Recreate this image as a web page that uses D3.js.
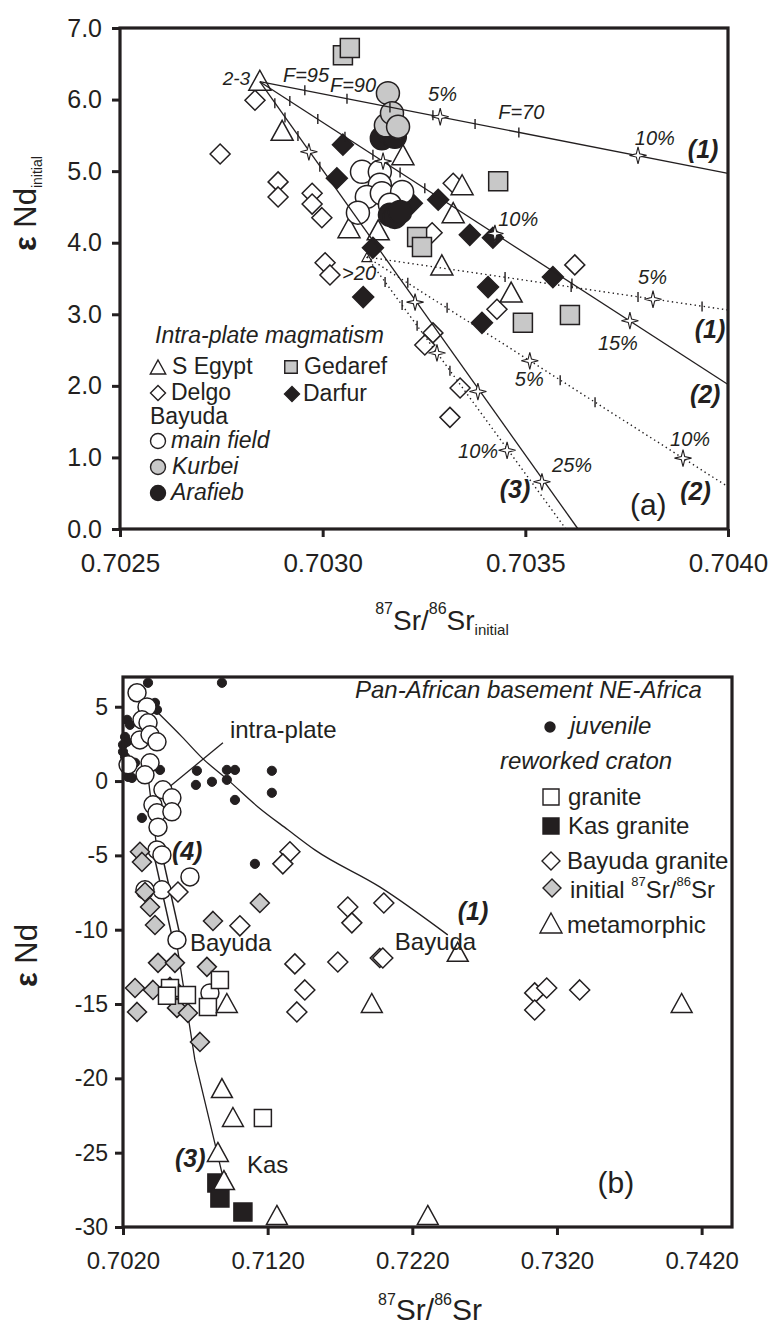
<!DOCTYPE html>
<html><head><meta charset="utf-8">
<script src="https://cdn.jsdelivr.net/npm/d3@7"></script>
<style>
body{margin:0;background:#fff;}
text{font-family:"Liberation Sans",Arial,sans-serif;fill:#231f20;}
</style></head>
<body><svg id="c" width="774" height="1325"></svg>
<script>
// ---------------- Panel (a) data ----------------
const aXTicks = [0.7025, 0.7030, 0.7035, 0.7040];
const aYTicks = [0, 1, 2, 3, 4, 5, 6, 7];
const aSEgypt = [[0.702845,6.27],[0.7029,5.57],[0.703198,5.23],[0.703065,4.21],[0.703137,4.18],[0.703322,4.42],[0.703344,4.81],[0.703294,3.69],[0.703465,3.31]];
const aDelgo = [[0.702833,5.99],[0.702747,5.24],[0.70289,4.85],[0.70289,4.64],[0.702974,4.69],[0.702974,4.54],[0.702998,4.35],[0.703006,3.72],[0.703018,3.55],[0.703322,4.83],[0.70327,4.14],[0.703622,3.69],[0.70343,3.07],[0.703272,2.74],[0.703252,2.57],[0.703339,1.97],[0.703314,1.56]];
const aDarfur = [[0.70305,5.37],[0.703035,4.90],[0.703124,3.93],[0.7031,3.24],[0.70322,4.55],[0.703285,4.60],[0.703363,4.11],[0.70342,4.07],[0.703568,3.52],[0.703408,3.38],[0.703393,2.88]];
const aGedaref = [[0.70305,6.62],[0.703067,6.72],[0.703433,4.86],[0.703233,4.08],[0.703245,3.94],[0.703494,2.88],[0.70361,2.99]];
const aMainField = [[0.703097,4.99],[0.703141,4.99],[0.703141,4.81],[0.703109,4.64],[0.703146,4.69],[0.703196,4.71],[0.703087,4.42],[0.703166,4.53]];
const aKurbei = [[0.703156,5.64],[0.703161,6.09],[0.703171,5.81],[0.703186,5.62]];
const aArafieb = [[0.703146,5.46],[0.703166,5.52],[0.703178,5.48],[0.703166,4.39],[0.703178,4.36],[0.703191,4.43]];
const aEndMember = [[0.703109,3.80]];
// mixing curves
const aSolid1 = [[0.702845,6.25],[0.7040,4.97]];
const aSolid2 = [[0.702845,6.25],[0.7040,2.02]];
const aSolid3 = [[0.702845,6.25],[0.70363,0.0]];
const aDot1 = [[0.703109,3.80],[0.7040,3.06]];
const aDot2 = [[0.703109,3.80],[0.7040,0.59]];
const aDot3 = [[0.703109,3.80],[0.70360,0.0]];
const aCurveTicks = [[0.702956,6.13],[0.70306,6.01],[0.703166,5.89],[0.703272,5.78],[0.703376,5.66],[0.703484,5.54],
  [0.702919,5.98],[0.702988,5.73],[0.703055,5.48],[0.703124,5.23],[0.703191,4.98],[0.703252,4.76],[0.703615,3.43],
  [0.702882,5.95],[0.702907,5.75],[0.702939,5.49],[0.702993,5.06],
  [0.70345,3.52],[0.703613,3.38],[0.703778,3.24],[0.703936,3.11],
  [0.70321,3.44],[0.703307,3.09],[0.703586,2.08],[0.703672,1.77],
  [0.703154,3.45],[0.703196,3.13],[0.703233,2.84],[0.703314,2.21]];
const aStars = [[0.70329,5.76],[0.703778,5.22],[0.703149,5.14],[0.703425,4.13],[0.703758,2.91],
  [0.702966,5.27],[0.703228,3.17],[0.703383,1.92],[0.703541,0.66],
  [0.703815,3.21],[0.703511,2.35],[0.703889,0.99],[0.703282,2.46],[0.703455,1.10]];
const aNotes = [
 {t:'2-3',x:0.702821,y:6.20,k:'pctEnd'},{t:'F=95',x:0.702902,y:6.25,k:'pct'},{t:'F=90',x:0.703018,y:6.11,k:'pct'},
 {t:'5%',x:0.70326,y:5.98,k:'pct'},{t:'F=70',x:0.703433,y:5.73,k:'pct'},{t:'10%',x:0.70377,y:5.37,k:'pct'},
 {t:'(1)',x:0.703901,y:5.18,k:'num'},{t:'10%',x:0.703433,y:4.23,k:'pct'},{t:'5%',x:0.703778,y:3.42,k:'pct'},
 {t:'>20',x:0.703048,y:3.48,k:'pct'},{t:'(1)',x:0.703918,y:2.67,k:'num'},{t:'15%',x:0.703679,y:2.50,k:'pct'},
 {t:'5%',x:0.703474,y:2.00,k:'pct'},{t:'(2)',x:0.703906,y:1.76,k:'num'},{t:'10%',x:0.703857,y:1.16,k:'pct'},
 {t:'10%',x:0.703334,y:0.99,k:'pct'},{t:'25%',x:0.703566,y:0.80,k:'pct'},{t:'(3)',x:0.703437,y:0.43,k:'num'},
 {t:'(2)',x:0.703882,y:0.41,k:'num'},{t:'(a)',x:0.703758,y:0.20,k:'panel'}];

// ---------------- Panel (b) data ----------------
const bXTicks = [0.7020, 0.7120, 0.7220, 0.7320, 0.7420];
const bYTicks = [5, 0, -5, -10, -15, -20, -25, -30];
const bJuvenile = [[0.70373,6.61],[0.70884,6.61],[0.70421,5.26],[0.70435,4.79],[0.70228,4.12],[0.70248,3.78],[0.70214,2.97],[0.70228,2.64],[0.702,1.97],[0.70214,1.63],[0.70235,0.28],[0.70262,0.21],[0.70283,1.23],[0.702,2.44],[0.70456,0.75],[0.70711,0.69],[0.70704,-0.26],[0.70815,-0.05],[0.70918,0.75],[0.70974,0.75],[0.70918,0.08],[0.70974,-1.27],[0.71229,0.69],[0.71229,-0.79],[0.70331,-2.48],[0.71112,-5.57]];
const bIntraPlate = [[0.70297,5.94],[0.70366,4.99],[0.70331,4.12],[0.70373,3.92],[0.70317,2.77],[0.70387,3.11],[0.70435,2.64],[0.70235,1.09],[0.70387,1.23],[0.70352,0.42],[0.70476,-0.59],[0.70538,-1.13],[0.70407,-1.60],[0.70435,-2.14],[0.70538,-2.07],[0.70442,-3.10],[0.70435,-4.63],[0.70469,-4.97],[0.70663,-6.45],[0.70469,-7.32],[0.70352,-7.32],[0.70573,-10.69],[0.70801,-14.25]];
const bInitialSr = [[0.70317,-4.76],[0.70331,-5.44],[0.70352,-7.46],[0.70387,-8.47],[0.70421,-9.68],[0.70822,-9.41],[0.71146,-8.20],[0.71975,-11.90],[0.70442,-12.23],[0.70559,-12.23],[0.7078,-12.50],[0.70283,-13.92],[0.70407,-14.05],[0.70525,-13.85],[0.7058,-14.25],[0.70297,-15.53],[0.70573,-15.26],[0.70649,-15.60],[0.70732,-17.55]];
const bBayudaGranite = [[0.7058,-7.46],[0.71008,-9.74],[0.71354,-4.76],[0.71305,-5.57],[0.71754,-8.47],[0.71782,-9.54],[0.72003,-8.20],[0.71388,-12.30],[0.71457,-14.05],[0.71402,-15.53],[0.71685,-12.17],[0.71996,-11.90],[0.73046,-14.25],[0.73129,-13.92],[0.73046,-15.40],[0.73357,-14.05]];
const bGranite = [[0.7087,-13.38],[0.70525,-13.92],[0.70504,-14.45],[0.70642,-14.39],[0.70787,-15.20],[0.71167,-22.66]];
const bKas = [[0.70849,-27.04],[0.7087,-28.05],[0.71029,-28.99]];
const bMeta = [[0.70918,-14.93],[0.70884,-20.65],[0.7096,-22.60],[0.70856,-24.95],[0.70898,-26.84],[0.71264,-29.19],[0.72307,-29.19],[0.74062,-14.93],[0.7192,-14.93],[0.72514,-11.49]];
const bCurve1 = [[0.70442,4.59],[0.70608,2.97],[0.70746,1.56],[0.70925,0.08],[0.71133,-1.74],[0.7134,-3.28],[0.71526,-4.63],[0.71975,-7.12],[0.72445,-10.35]];
const bCurve3 = [[0.70366,0.89],[0.70435,-4.63],[0.70573,-11.02],[0.70697,-18.76],[0.70891,-26.64]];
const bCurve4 = [[0.70442,-4.97],[0.70573,-10.69]];
const bLeader = [[0.70891,2.57],[0.70511,-0.46]];
const bNotes = [
 {t:'intra-plate',x:0.70939,y:2.91,k:'name'},{t:'(4)',x:0.70538,y:-5.30,k:'num'},
 {t:'Bayuda',x:0.70663,y:-11.43,k:'name'},{t:'Bayuda',x:0.72079,y:-11.36,k:'name'},
 {t:'(1)',x:0.72514,y:-9.34,k:'num'},{t:'(3)',x:0.70559,y:-25.96,k:'num'},
 {t:'Kas',x:0.71057,y:-26.37,k:'name'},{t:'(b)',x:0.73481,y:-27.71,k:'panel'}];

// ---------------- drawing ----------------
const ink = '#231f20', gray = '#c8c8c8';
const svg = d3.select('#c');

function shapePath(type, cx, cy, s) {
  if (type === 'tri') return `M${cx},${cy - s*0.5}L${cx + s*0.55},${cy + s*0.5}L${cx - s*0.55},${cy + s*0.5}Z`;
  if (type === 'dia') return `M${cx},${cy - s}L${cx + s},${cy}L${cx},${cy + s}L${cx - s},${cy}Z`;
  if (type === 'sq') return `M${cx - s/2},${cy - s/2}h${s}v${s}h${-s}Z`;
  if (type === 'star') {
    let p = '';
    for (let i = 0; i < 8; i++) {
      const a = i * Math.PI / 4 - Math.PI / 2, r = i % 2 ? s * 0.28 : s;
      p += (i ? 'L' : 'M') + (cx + r * Math.cos(a)) + ',' + (cy + r * Math.sin(a));
    }
    return p + 'Z';
  }
}
function marks(g, data, xs, ys, type, size, fill, sw) {
  if (type === 'circ') {
    g.selectAll(null).data(data).enter().append('circle')
      .attr('cx', d => xs(d[0])).attr('cy', d => ys(d[1])).attr('r', size)
      .attr('fill', fill).attr('stroke', ink).attr('stroke-width', sw || 1.5);
  } else {
    g.selectAll(null).data(data).enter().append('path')
      .attr('d', d => shapePath(type, xs(d[0]), ys(d[1]), size))
      .attr('fill', fill).attr('stroke', ink).attr('stroke-width', sw || 1.5)
      .attr('stroke-linejoin', 'miter');
  }
}
function legendMark(g, type, x, y, size, fill) {
  marks(g, [[x, y]], v => v, v => v, type, size, fill, 1.4);
}
function txt(g, x, y, s, o) {
  o = o || {};
  return g.append('text').attr('x', x).attr('y', y).attr('font-size', o.size || 22)
    .attr('font-style', o.italic ? 'italic' : null).attr('font-weight', o.bold ? 'bold' : null)
    .attr('text-anchor', o.anchor || 'start').text(s);
}
const noteStyle = {
  pct: {size: 20, italic: true}, pctEnd: {size: 19, italic: true, anchor: 'end'},
  num: {size: 25, italic: true, bold: true}, panel: {size: 30}, name: {size: 24}
};
function styleAxis(g, fs) {
  g.select('.domain').remove();
  g.selectAll('.tick line').attr('stroke', ink).attr('stroke-width', 3);
  g.selectAll('.tick text').attr('font-size', fs).attr('fill', ink)
    .attr('font-family', '"Liberation Sans",Arial,sans-serif');
}

// ===== Panel (a) =====
const xa = d3.scaleLinear().domain([0.7025, 0.7040]).range([120, 728]);
const ya = d3.scaleLinear().domain([0, 7]).range([529, 28]);
const ga = svg.append('g');

ga.append('g').attr('transform', `translate(0,${ya(0)})`)
  .call(d3.axisBottom(xa).tickValues(aXTicks).tickFormat(d3.format('.4f')).tickSize(8).tickPadding(17))
  .call(g => styleAxis(g, 26));
ga.append('g').attr('transform', `translate(${xa(0.7025)},0)`)
  .call(d3.axisLeft(ya).tickValues(aYTicks).tickFormat(d3.format('.1f')).tickSize(8).tickPadding(10))
  .call(g => styleAxis(g, 25));

const pa = ga.append('g');
marks(pa, aDelgo, xa, ya, 'dia', 10, '#fff');
marks(pa, aSEgypt, xa, ya, 'tri', 20, '#fff');
marks(pa, aDarfur, xa, ya, 'dia', 10.5, ink);
marks(pa, aMainField, xa, ya, 'circ', 11.5, '#fff');
marks(pa, aArafieb, xa, ya, 'circ', 11.5, ink);
marks(pa, aKurbei, xa, ya, 'circ', 11.5, gray);
marks(pa, aGedaref, xa, ya, 'sq', 19, gray);
marks(pa, aEndMember, xa, ya, 'tri', 9, '#fff', 1.2);

const lineA = d3.line().x(d => xa(d[0])).y(d => ya(d[1]));
[aSolid1, aSolid2, aSolid3].forEach(c => pa.append('path').attr('d', lineA(c))
  .attr('fill', 'none').attr('stroke', ink).attr('stroke-width', 1.3));
[aDot1, aDot2, aDot3].forEach(c => pa.append('path').attr('d', lineA(c))
  .attr('fill', 'none').attr('stroke', ink).attr('stroke-width', 1.4)
  .attr('stroke-dasharray', '1.4,3.2'));
pa.selectAll(null).data(aCurveTicks).enter().append('line')
  .attr('x1', d => xa(d[0])).attr('x2', d => xa(d[0]))
  .attr('y1', d => ya(d[1]) - 5).attr('y2', d => ya(d[1]) + 5)
  .attr('stroke', ink).attr('stroke-width', 1.4);
marks(pa, aStars, xa, ya, 'star', 8.5, '#fff', 1.1);
aNotes.forEach(n => txt(pa, xa(n.x), ya(n.y), n.t, noteStyle[n.k]));

// frame
ga.append('rect').attr('x', xa(0.7025)).attr('y', ya(7))
  .attr('width', xa(0.7040) - xa(0.7025)).attr('height', ya(0) - ya(7))
  .attr('fill', 'none').attr('stroke', ink).attr('stroke-width', 3.2);

// legend (a)
const la = ga.append('g');
txt(la, 155, 343, 'Intra-plate magmatism', {size: 23, italic: true});
legendMark(la, 'tri', 158, 367, 14, '#fff'); txt(la, 172, 374, 'S Egypt', {size: 23});
legendMark(la, 'sq', 291, 367, 12.5, gray); txt(la, 304, 374, 'Gedaref', {size: 23});
legendMark(la, 'dia', 158, 393, 7.5, '#fff'); txt(la, 171, 400, 'Delgo', {size: 23});
legendMark(la, 'dia', 292, 394, 7.5, ink); txt(la, 303, 401, 'Darfur', {size: 23});
txt(la, 150, 424, 'Bayuda', {size: 23});
legendMark(la, 'circ', 158, 441, 7.5, '#fff'); txt(la, 171, 448, 'main field', {size: 23, italic: true});
legendMark(la, 'circ', 158, 467, 7.5, gray); txt(la, 172, 474, 'Kurbei', {size: 23, italic: true});
legendMark(la, 'circ', 158, 493, 7.5, ink); txt(la, 171, 500, 'Arafieb', {size: 23, italic: true});

// axis titles (a)
const ta = ga.append('text').attr('x', 442).attr('y', 630).attr('text-anchor', 'middle').attr('font-size', 28);
ta.append('tspan').attr('font-size', 16).attr('dy', -16).text('87');
ta.append('tspan').attr('dy', 16).text('Sr/');
ta.append('tspan').attr('font-size', 16).attr('dy', -16).text('86');
ta.append('tspan').attr('dy', 16).text('Sr');
ta.append('tspan').attr('font-size', 15).attr('dy', 5).text('initial');
const tya = ga.append('text').attr('transform', 'translate(36,251) rotate(-90)').attr('font-size', 31);
tya.append('tspan').attr('font-weight', 'bold').text('ε');
tya.append('tspan').text(' Nd');
tya.append('tspan').attr('font-size', 14).attr('dy', 6).text('initial');

// ===== Panel (b) =====
const xb = d3.scaleLinear().domain([0.7020, 0.7441]).range([123, 732]);
const yb = d3.scaleLinear().domain([-30, 7]).range([1227, 677]);
const gb = svg.append('g');

gb.append('g').attr('transform', `translate(0,${yb(-30)})`)
  .call(d3.axisBottom(xb).tickValues(bXTicks).tickFormat(d3.format('.4f')).tickSize(8).tickPadding(17))
  .call(g => styleAxis(g, 24));
gb.append('g').attr('transform', `translate(${xb(0.702)},0)`)
  .call(d3.axisLeft(yb).tickValues(bYTicks).tickFormat(d => String(d)).tickSize(8).tickPadding(7))
  .call(g => styleAxis(g, 23));

const pb = gb.append('g');
const lineB = d3.line().x(d => xb(d[0])).y(d => yb(d[1]));
pb.append('path').attr('d', lineB.curve(d3.curveMonotoneX)(bCurve1)).attr('fill', 'none').attr('stroke', ink).attr('stroke-width', 1.3);
lineB.curve(d3.curveLinear);
pb.append('path').attr('d', lineB(bCurve3)).attr('fill', 'none').attr('stroke', ink).attr('stroke-width', 1.3);
pb.append('path').attr('d', lineB(bLeader)).attr('fill', 'none').attr('stroke', ink).attr('stroke-width', 1.3);
pb.append('path').attr('d', lineB(bCurve4)).attr('fill', 'none').attr('stroke', ink).attr('stroke-width', 9.5).attr('stroke-linecap', 'butt');
pb.append('path').attr('d', lineB(bCurve4)).attr('fill', 'none').attr('stroke', '#fff').attr('stroke-width', 6.5).attr('stroke-linecap', 'butt');

marks(pb, bJuvenile, xb, yb, 'circ', 4.6, ink, 1);
marks(pb, bIntraPlate, xb, yb, 'circ', 9, '#fff');
marks(pb, bInitialSr, xb, yb, 'dia', 9.5, gray);
marks(pb, bBayudaGranite, xb, yb, 'dia', 10, '#fff');
marks(pb, bGranite, xb, yb, 'sq', 17, '#fff');
marks(pb, bKas, xb, yb, 'sq', 18, ink);
marks(pb, bMeta, xb, yb, 'tri', 19, '#fff');
bNotes.forEach(n => txt(pb, xb(n.x), yb(n.y), n.t, noteStyle[n.k]));

gb.append('rect').attr('x', xb(0.702)).attr('y', yb(7))
  .attr('width', xb(0.7441) - xb(0.702)).attr('height', yb(-30) - yb(7))
  .attr('fill', 'none').attr('stroke', ink).attr('stroke-width', 3.2);

// legend (b)
const lb = gb.append('g');
txt(lb, 355, 698, 'Pan-African basement NE-Africa', {size: 24, italic: true});
legendMark(lb, 'circ', 550, 727, 5, ink); txt(lb, 570, 734, 'juvenile', {size: 24, italic: true});
txt(lb, 500, 769, 'reworked craton', {size: 24, italic: true});
legendMark(lb, 'sq', 551, 797, 16, '#fff'); txt(lb, 568, 805, 'granite', {size: 24});
legendMark(lb, 'sq', 551, 826, 16, ink); txt(lb, 568, 834, 'Kas granite', {size: 24});
legendMark(lb, 'dia', 551, 861, 9, '#fff'); txt(lb, 567, 869, 'Bayuda granite', {size: 24});
legendMark(lb, 'dia', 552, 888, 9, gray);
const li = lb.append('text').attr('x', 570).attr('y', 898).attr('font-size', 24);
li.append('tspan').text('initial ');
li.append('tspan').attr('font-size', 13).attr('dy', -12).text('87');
li.append('tspan').attr('dy', 12).text('Sr/');
li.append('tspan').attr('font-size', 13).attr('dy', -12).text('86');
li.append('tspan').attr('dy', 12).text('Sr');
legendMark(lb, 'tri', 551, 923, 20, '#fff'); txt(lb, 567, 933, 'metamorphic', {size: 24});

// axis titles (b)
const tb = gb.append('text').attr('x', 430).attr('y', 1320).attr('text-anchor', 'middle').attr('font-size', 30);
tb.append('tspan').attr('font-size', 16).attr('dy', -15).text('87');
tb.append('tspan').attr('dy', 15).text('Sr/');
tb.append('tspan').attr('font-size', 16).attr('dy', -15).text('86');
tb.append('tspan').attr('dy', 15).text('Sr');
const tyb = gb.append('text').attr('transform', 'translate(37,987) rotate(-90)').attr('font-size', 31);
tyb.append('tspan').attr('font-weight', 'bold').text('ε');
tyb.append('tspan').text(' Nd');
</script></body></html>
